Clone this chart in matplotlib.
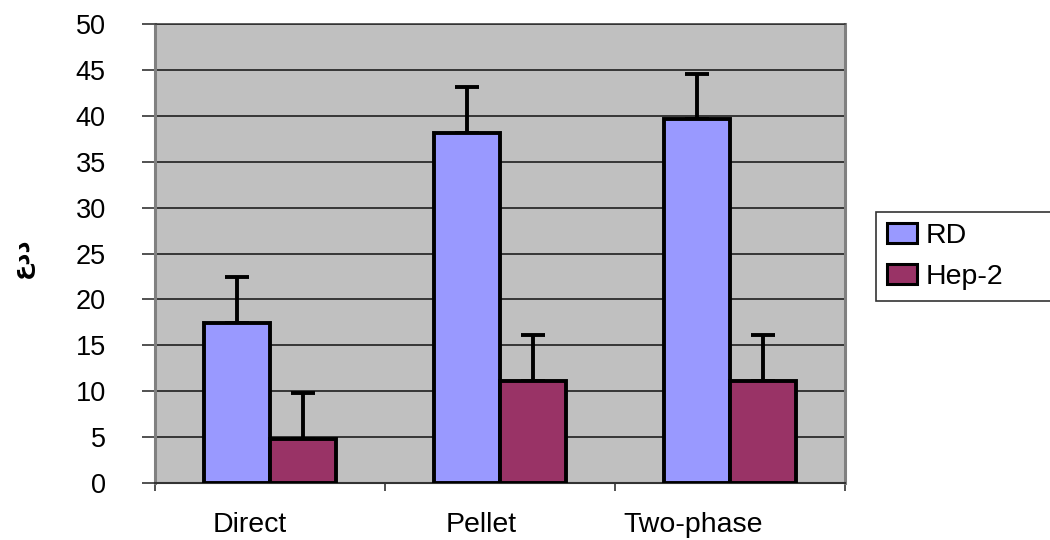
import matplotlib
matplotlib.use("Agg")
import matplotlib.pyplot as plt
import numpy as np

categories = ["Direct", "Pellet", "Two-phase"]
series_names = ["RD", "Hep-2"]
rd_values = [17.4, 38.1, 39.6]
rd_err = [5.0, 5.0, 5.0]
hep_values = [4.8, 11.1, 11.1]
hep_err = [5.0, 5.0, 5.0]
y_ticks = [0, 5, 10, 15, 20, 25, 30, 35, 40, 45, 50]
y_label = "عدد"

# horizontal nudge of the category labels (in category units), as in the reference
label_nudge = [-0.087, -0.083, -0.16]

plt.rcParams['font.family'] = ['Liberation Sans', 'DejaVu Sans']

fig = plt.figure(figsize=(10.5, 5.4), dpi=100)
ax = fig.add_axes([155/1050, 57/540, 690/1050, 459/540])
ax.set_facecolor("#C0C0C0")

x = np.arange(len(categories))
w = 0.287
colors = ["#9999FF", "#993366"]
for i, (vals, errs) in enumerate([(rd_values, rd_err), (hep_values, hep_err)]):
    pos = x + (i - 0.5) * w
    ax.bar(pos, vals, width=w, color=colors[i], edgecolor="black", linewidth=2.8,
           label=series_names[i], zorder=3)
    ax.errorbar(pos, vals, yerr=[np.zeros(len(errs)), errs], fmt="none",
                ecolor="black", elinewidth=2.8, capsize=8.6, capthick=2.8, zorder=2)

ax.set_xlim(-0.5, 2.5)
ax.set_ylim(0, 50)
ax.set_yticks(y_ticks)
ax.set_yticklabels([str(t) for t in y_ticks], fontsize=19.5)
ax.yaxis.grid(True, color="#111111", linewidth=1.1, zorder=1)
ax.set_axisbelow(True)

ax.set_xticks([-0.5, 0.5, 1.5, 2.5])
ax.set_xticklabels([])
ax.set_xticks(x + np.array(label_nudge), minor=True)
ax.set_xticklabels(categories, minor=True, fontsize=20.5)
ax.tick_params(axis="x", which="major", length=6, width=1.2, color="#333333", direction="out")
ax.tick_params(axis="x", which="minor", length=0, pad=21)
ax.tick_params(axis="y", length=9.5, width=1.2, color="#333333", direction="out", pad=26)

for s in ["left", "right"]:
    ax.spines[s].set_color("#808080")
    ax.spines[s].set_linewidth(2.2)
ax.spines["top"].set_color("#333333")
ax.spines["top"].set_linewidth(1.1)
ax.spines["bottom"].set_color("#333333")
ax.spines["bottom"].set_linewidth(1.5)

fig.text(22/1050, 1 - 258/540, y_label, rotation=90, fontsize=17, fontweight="bold",
         ha="center", va="center", family=['DejaVu Sans'])

leg = ax.legend(loc="upper left", bbox_to_anchor=(876/1050, 1 - 296/540, 180/1050, 84/540),
                bbox_transform=fig.transFigure, mode="expand", frameon=True, fancybox=False,
                fontsize=20.5, handlelength=1.05, handleheight=0.7, handletextpad=0.3,
                borderpad=0.4, labelspacing=0.5, borderaxespad=0)
leg.get_frame().set_edgecolor("black")
leg.get_frame().set_linewidth(1.2)
for h in leg.legend_handles:
    h.set_linewidth(2.2)

fig.savefig("out.png", dpi=100)
